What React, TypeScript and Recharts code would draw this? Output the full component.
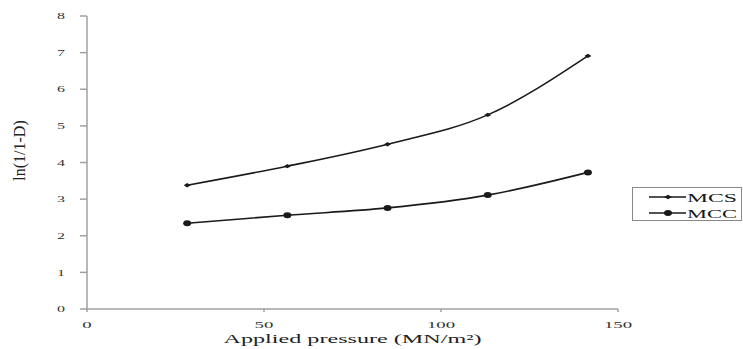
import React from 'react';
import { LineChart, Line, XAxis, YAxis } from 'recharts';

const pressure = [28.3, 56.6, 84.9, 113.2, 141.5];
const mcs = [3.38, 3.9, 4.5, 5.3, 6.91];
const mcc = [2.34, 2.56, 2.76, 3.11, 3.73];
const xTicks = [0, 50, 100, 150];
const yTicks = [0, 1, 2, 3, 4, 5, 6, 7, 8];
const seriesNames = ['MCS', 'MCC'];

const data = pressure.map((p, i) => ({ p, MCS: mcs[i], MCC: mcc[i] }));

const FONT = '"Liberation Serif", "Times New Roman", serif';
const AXIS = '#a0a0a0';
const INK = '#1a1a1a';

const XTick = (props: any) => {
  const { x, y, payload } = props;
  const s = String(payload.value);
  return (
    <text x={x} y={y} dy={14} textAnchor="middle" fontFamily={FONT} fontSize={9} fill="#333"
      textLength={s.length * 9.4} lengthAdjust="spacingAndGlyphs">{s}</text>
  );
};

const YTick = (props: any) => {
  const { x, y, payload } = props;
  const s = String(payload.value);
  return (
    <text x={x} y={y} dy={3.2} textAnchor="end" fontFamily={FONT} fontSize={9} fill="#333"
      textLength={s.length * 8} lengthAdjust="spacingAndGlyphs">{s}</text>
  );
};

const Diamond = (props: any) => {
  const { cx, cy } = props;
  if (cx == null || cy == null) return null;
  return <path d={`M${cx - 3.5},${cy} L${cx},${cy - 2.2} L${cx + 3.5},${cy} L${cx},${cy + 2.2} Z`} fill={INK} />;
};

const Dot = (props: any) => {
  const { cx, cy } = props;
  if (cx == null || cy == null) return null;
  return <ellipse cx={cx} cy={cy} rx={4} ry={3} fill={INK} />;
};

const LegendBox = () => (
  <div style={{ border: '1px solid #888', width: 110, height: 34, boxSizing: 'border-box', background: '#fff' }}>
    <svg width={108} height={32} style={{ display: 'block' }}>
      {seriesNames.map((n, i) => {
        const cy = 9 + i * 16;
        return (
          <g key={n}>
            <line x1={16} x2={53} y1={cy} y2={cy} stroke={INK} strokeWidth={1.5} />
            {i === 0 ? (
              <path d={`M${31},${cy} L${35},${cy - 2.2} L${39},${cy} L${35},${cy + 2.2} Z`} fill={INK} />
            ) : (
              <ellipse cx={35} cy={cy} rx={4} ry={3} fill={INK} />
            )}
            <text x={54} y={cy + 4.5} fontFamily={FONT} fontSize={12} fill={INK}
              textLength={50} lengthAdjust="spacingAndGlyphs">{n}</text>
          </g>
        );
      })}
    </svg>
  </div>
);

export default function App() {
  return (
    <div style={{ position: 'absolute', left: 0, top: 0, width: 743, height: 349, background: '#fff', overflow: 'hidden' }}>
      <LineChart width={743} height={349} data={data} margin={{ top: 16, right: 125, bottom: 0, left: 0 }}>
        <XAxis
          dataKey="p"
          type="number"
          domain={[0, 150]}
          ticks={xTicks}
          stroke={AXIS}
          strokeWidth={1.5}
          tickSize={3}
          height={40}
          tick={<XTick />}
          label={(p: any) => {
            const vb = p.viewBox;
            return (
              <text x={vb.x + vb.width / 2} y={vb.y + 34} textAnchor="middle" fontFamily={FONT} fontSize={13} fill="#222"
                textLength={258} lengthAdjust="spacingAndGlyphs">Applied pressure (MN/m²)</text>
            );
          }}
        />
        <YAxis
          type="number"
          domain={[0, 8]}
          ticks={yTicks}
          width={87}
          stroke={AXIS}
          strokeWidth={1.5}
          tickSize={7}
          tickMargin={15}
          tick={<YTick />}
          label={(p: any) => {
            const vb = p.viewBox;
            const cx = 25;
            const cy = vb.y + vb.height / 2 - 12;
            return (
              <text x={cx} y={cy} transform={`rotate(-90 ${cx} ${cy})`} textAnchor="middle" fontFamily={FONT} fontSize={16} fill="#222">ln(1/1-D)</text>
            );
          }}
        />
        <Line type="monotone" dataKey="MCS" stroke={INK} strokeWidth={1.6} dot={<Diamond />} activeDot={false} isAnimationActive={false} />
        <Line type="monotone" dataKey="MCC" stroke={INK} strokeWidth={1.6} dot={<Dot />} activeDot={false} isAnimationActive={false} />
      </LineChart>
      <div style={{ position: 'absolute', left: 632, top: 187 }}>
        <LegendBox />
      </div>
    </div>
  );
}
